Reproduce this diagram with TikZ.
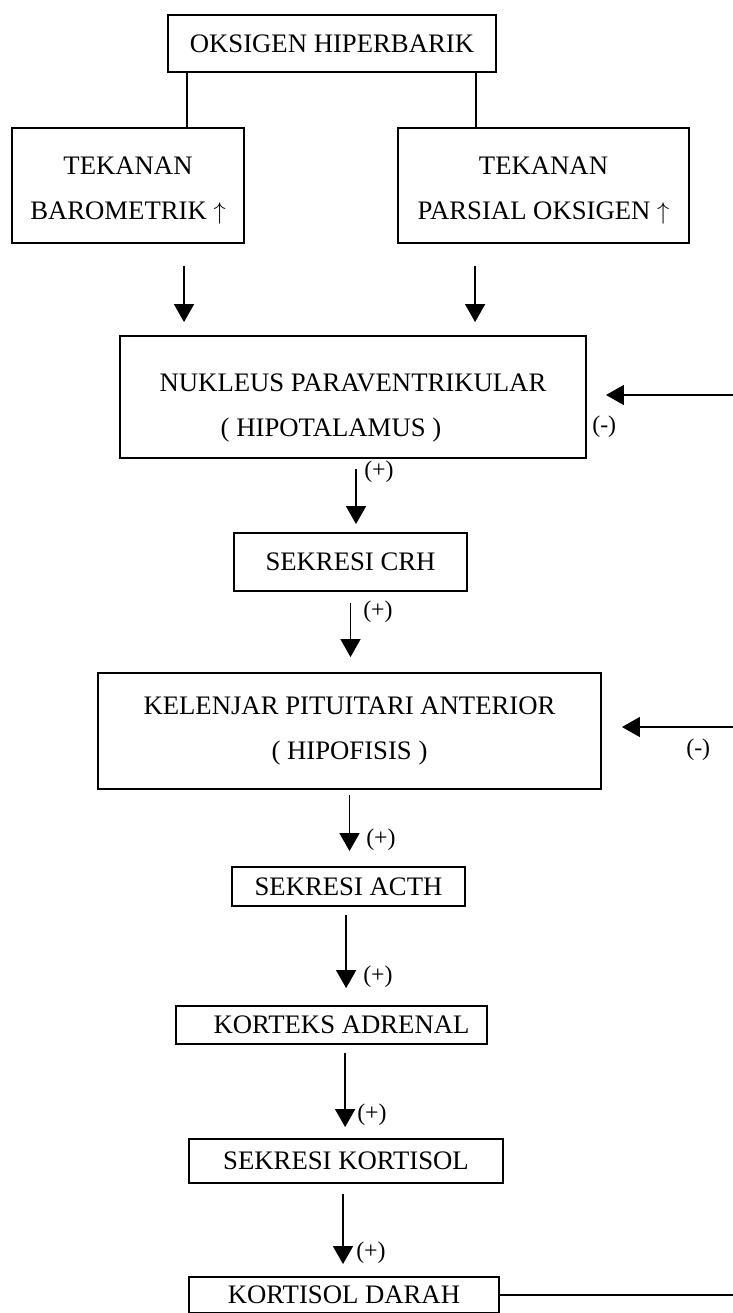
\documentclass[tikz,border=0pt]{standalone}
\usepackage{fontspec}
\setmainfont{Liberation Serif}
\usetikzlibrary{arrows.meta}

\tikzset{
  kotak/.style={draw, line width=1.3pt, inner sep=0pt, align=center,
    font=\fontsize{19}{32}\selectfont},
  panah/.style={-{Triangle[width=0.5cm, length=0.45cm]}, line width=1.1pt},
  garis/.style={line width=1.1pt},
  tanda/.style={font=\fontsize{17}{20}\selectfont, inner sep=0pt, anchor=west},
}

\begin{document}
\begin{tikzpicture}[x=0.025cm, y=-0.025cm]
    \useasboundingbox (0,0) rectangle (732,1313);

    % --- TOP: STIMULUS ---
    \node[kotak, minimum width=8.2cm, minimum height=1.425cm] (oksigen) at (332,43.5) {OKSIGEN HIPERBARIK};
    \node[kotak, minimum width=5.8cm, minimum height=2.875cm, text height=1.825cm, text depth=0.15cm] (baro) at (128,185.5) {TEKANAN\\BAROMETRIK $\uparrow$};
    \node[kotak, minimum width=7.275cm, minimum height=2.875cm, text height=1.825cm, text depth=0.15cm] (parsial) at (543.5,185.5) {TEKANAN\\PARSIAL OKSIGEN $\uparrow$};

    \draw[garis] ([xshift=-3.625cm]oksigen.south) -- ([xshift=-3.625cm]oksigen.south |- baro.north);
    \draw[garis] ([xshift=3.6cm]oksigen.south) -- ([xshift=3.6cm]oksigen.south |- parsial.north);

    % --- MIDDLE: HIPOTALAMUS AND HIPOFISIS ---
    \node[kotak, minimum width=11.65cm, minimum height=3.05cm, text height=2.1cm, text depth=0.15cm] (nukleus) at (353,397) {NUKLEUS PARAVENTRIKULAR\\( HIPOTALAMUS )\hspace*{1.1cm}};
    \node[kotak, minimum width=5.825cm, minimum height=1.45cm] (crh) at (350.5,562) {SEKRESI CRH};
    \node[kotak, minimum width=12.575cm, minimum height=2.9cm] (kelenjar) at (349.5,731) {KELENJAR PITUITARI ANTERIOR\\( HIPOFISIS )};

    \draw[panah, shorten <=0.55cm, shorten >=0.325cm] ([xshift=1.4cm]baro.south) -- ([xshift=1.4cm]baro.south |- nukleus.north);
    \draw[panah, shorten <=0.55cm, shorten >=0.325cm] ([xshift=-1.71cm]parsial.south) -- ([xshift=-1.71cm]parsial.south |- nukleus.north);

    \draw[panah, shorten <=0.25cm, shorten >=0.2cm] ([xshift=0.075cm]nukleus.south) -- ([xshift=0.075cm]nukleus.south |- crh.north);
    \node[tanda] (p1) at (364,472) {(+)};
    \draw[panah, shorten <=0.275cm, shorten >=0.375cm] (crh.south) -- (crh.south |- kelenjar.north);
    \node[tanda] (p2) at (363,612) {(+)};

    % --- BOTTOM: ADRENAL ---
    \node[kotak, minimum width=5.825cm, minimum height=0.975cm] (acth) at (348.5,886.5) {SEKRESI ACTH};
    \node[kotak, minimum width=7.775cm, minimum height=0.95cm] (korteks) at (331.5,1025) {\hspace*{0.5cm}KORTEKS ADRENAL};
    \node[kotak, minimum width=7.85cm, minimum height=1.1cm] (sekresi) at (346,1161) {SEKRESI KORTISOL};
    \node[kotak, minimum width=7.75cm, minimum height=0.9cm] (darah) at (344,1295) {KORTISOL DARAH};

    \draw[panah, shorten <=0.125cm, shorten >=0.375cm] (kelenjar.south) -- (kelenjar.south |- acth.north);
    \node[tanda] (p3) at (366,840) {(+)};
    \draw[panah, shorten <=0.2cm, shorten >=0.425cm] ([xshift=-0.06cm]acth.south) -- ([xshift=-0.06cm]acth.south |- korteks.north);
    \node[tanda] (p4) at (363,977) {(+)};
    \draw[panah, shorten <=0.2cm, shorten >=0.275cm] ([xshift=0.34cm]korteks.south) -- ([xshift=0.34cm]korteks.south |- sekresi.north);
    \node[tanda] (p5) at (357,1115) {(+)};
    \draw[panah, shorten <=0.25cm, shorten >=0.3cm] ([xshift=-0.075cm]sekresi.south) -- ([xshift=-0.075cm]sekresi.south |- darah.north);
    \node[tanda] (p6) at (356,1253) {(+)};

    % --- FEEDBACK (-), the return line runs past the page edge ---
    \coordinate (k1) at (745,395);
    \coordinate (k2) at (745,727);
    \draw[garis] (darah.east) -- (darah.east -| k1) -- (k1);
    \draw[panah, shorten >=0.475cm] (k1) -- (k1 -| nukleus.east);
    \draw[panah, shorten >=0.5cm] (k2) -- (k2 -| kelenjar.east);
    \node[tanda] (m1) at (592,427) {(-)};
    \node[tanda] (m2) at (686,750) {(-)};
\end{tikzpicture}
\end{document}
